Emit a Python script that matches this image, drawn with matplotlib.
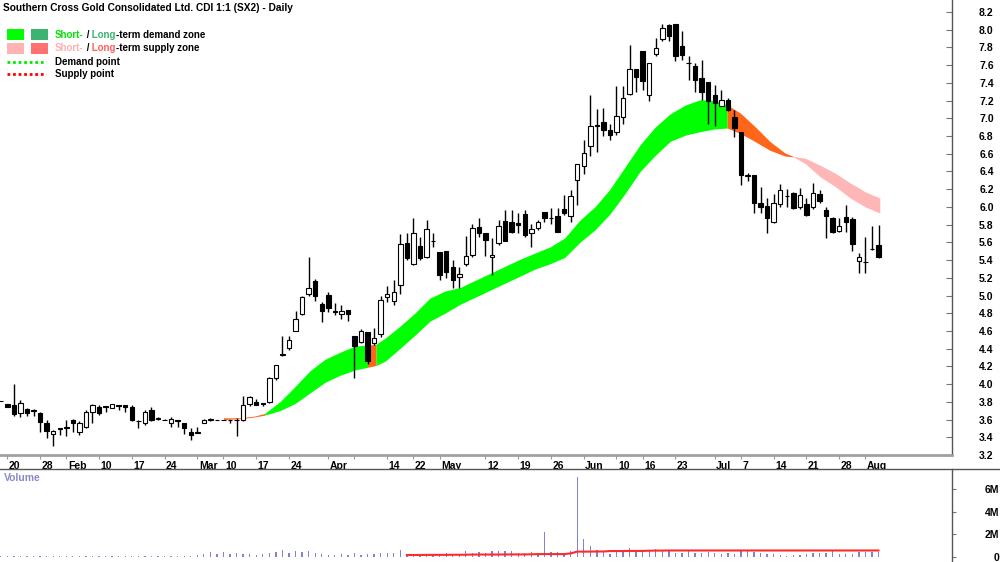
import numpy as np
import matplotlib
matplotlib.use("Agg")
import matplotlib.pyplot as plt
from matplotlib.lines import Line2D
import matplotlib.transforms as mtransforms

plt.rcParams['font.family'] = ['Liberation Sans', 'DejaVu Sans']

# ---------------- data ----------------
title = "Southern Cross Gold Consolidated Ltd. CDI 1:1 (SX2) - Daily"

opens = [3.81, 3.77, 3.76, 3.67, 3.72, 3.71, 3.67, 3.56, 3.44, 3.495, 3.51, 3.60, 3.46, 3.52, 3.69, 3.74,
         3.74, 3.73, 3.76, 3.76, 3.745, 3.58, 3.56, 3.71, 3.61, 3.60, 3.56, 3.60, 3.56, 3.46, 3.45, 3.565,
         3.60, 3.60, 3.60, 3.60, 3.60, 3.59, 3.77, 3.80, 3.79, 3.80, 4.07, 4.33, 4.41, 4.60, 4.79, 5.02,
         5.16, 4.90, 5.01, 4.82, 4.79, 4.84, 4.54, 4.48, 4.59, 4.46, 4.57, 4.98, 4.94, 5.12, 5.59, 5.36,
         5.56, 5.43, 5.62, 5.49, 5.50, 5.32, 5.21, 5.36, 5.46, 5.77, 5.71, 5.43, 5.59, 5.84, 5.83, 5.82,
         5.92, 5.71, 5.76, 5.94, 5.88, 5.90, 5.98, 5.90, 6.30, 6.46, 6.69, 6.92, 6.96, 6.87, 6.85, 7.02,
         7.28, 7.56, 7.76, 7.26, 7.73, 7.90, 8.05, 8.07, 7.82, 7.62, 7.59, 7.46, 7.41, 7.26, 7.14, 7.21,
         7.01, 6.85, 6.35, 6.36, 6.04, 6.01, 5.83, 6.03, 6.12, 6.16, 6.00, 6.03, 6.00, 6.15, 5.97, 5.87,
         5.73, 5.89, 5.86, 5.39, 5.38, 5.52, 5.57]
highs = [3.815, 3.77, 4.00, 3.82, 3.73, 3.715, 3.69, 3.60, 3.48, 3.50, 3.60, 3.61, 3.58, 3.71, 3.78, 3.76,
         3.75, 3.77, 3.76, 3.76, 3.76, 3.59, 3.71, 3.74, 3.63, 3.61, 3.63, 3.60, 3.565, 3.50, 3.52, 3.61,
         3.62, 3.60, 3.60, 3.60, 3.62, 3.87, 3.87, 3.83, 3.79, 4.08, 4.22, 4.54, 4.54, 4.82, 5.00, 5.43,
         5.19, 4.93, 5.04, 4.92, 4.89, 4.84, 4.54, 4.62, 4.59, 4.63, 5.00, 5.11, 5.18, 5.69, 5.70, 5.88,
         5.66, 5.85, 5.70, 5.49, 5.50, 5.40, 5.32, 5.67, 5.81, 5.88, 5.71, 5.65, 5.85, 5.97, 5.97, 5.93,
         5.97, 5.81, 5.85, 5.94, 5.99, 5.99, 6.13, 6.19, 6.48, 6.76, 7.26, 7.10, 7.12, 6.94, 7.36, 7.36,
         7.83, 7.56, 7.76, 7.62, 7.91, 8.07, 8.07, 8.07, 7.99, 7.70, 7.62, 7.66, 7.41, 7.38, 7.32, 7.23,
         7.09, 6.85, 6.38, 6.36, 6.23, 6.10, 6.15, 6.26, 6.20, 6.17, 6.21, 6.10, 6.27, 6.19, 6.00, 5.89,
         5.87, 6.02, 5.89, 5.48, 5.66, 5.78, 5.80]
lows = [3.805, 3.74, 3.64, 3.63, 3.64, 3.64, 3.46, 3.39, 3.30, 3.43, 3.42, 3.46, 3.43, 3.51, 3.56, 3.65,
        3.68, 3.73, 3.71, 3.68, 3.58, 3.51, 3.54, 3.58, 3.60, 3.59, 3.52, 3.52, 3.44, 3.37, 3.45, 3.56,
        3.58, 3.60, 3.60, 3.56, 3.41, 3.58, 3.75, 3.76, 3.75, 3.79, 4.05, 4.32, 4.38, 4.60, 4.78, 5.00,
        4.94, 4.70, 4.81, 4.78, 4.74, 4.71, 4.07, 4.46, 4.23, 4.44, 4.53, 4.93, 4.89, 5.02, 5.40, 5.34,
        5.40, 5.42, 5.55, 5.18, 5.20, 5.08, 5.08, 5.33, 5.44, 5.66, 5.45, 5.23, 5.57, 5.61, 5.70, 5.70,
        5.66, 5.55, 5.74, 5.83, 5.81, 5.72, 5.91, 5.83, 6.02, 6.37, 6.58, 6.62, 6.80, 6.76, 6.81, 6.94,
        7.26, 7.30, 7.32, 7.19, 7.70, 7.87, 7.87, 7.65, 7.66, 7.43, 7.30, 7.21, 6.94, 6.91, 7.14, 7.08,
        6.79, 6.25, 6.29, 5.93, 5.93, 5.70, 5.82, 6.00, 6.00, 5.98, 5.98, 5.90, 5.98, 6.04, 5.65, 5.70,
        5.72, 5.72, 5.50, 5.25, 5.25, 5.51, 5.42]
closes = [3.81, 3.745, 3.66, 3.79, 3.67, 3.70, 3.57, 3.47, 3.47, 3.50, 3.515, 3.56, 3.56, 3.69, 3.76, 3.67,
          3.75, 3.77, 3.755, 3.745, 3.60, 3.585, 3.69, 3.60, 3.615, 3.60, 3.61, 3.58, 3.51, 3.43, 3.455, 3.60,
          3.605, 3.60, 3.60, 3.595, 3.59, 3.76, 3.85, 3.76, 3.77, 4.07, 4.22, 4.335, 4.50, 4.73, 4.98, 5.09,
          4.99, 4.82, 4.86, 4.81, 4.83, 4.79, 4.43, 4.60, 4.26, 4.52, 4.95, 5.02, 5.04, 5.58, 5.42, 5.70,
          5.42, 5.75, 5.62, 5.23, 5.27, 5.18, 5.24, 5.45, 5.76, 5.71, 5.63, 5.46, 5.78, 5.62, 5.72, 5.80,
          5.68, 5.75, 5.83, 5.87, 5.88, 5.72, 5.93, 6.12, 6.48, 6.61, 6.91, 6.91, 6.87, 6.81, 7.03, 7.23,
          7.56, 7.47, 7.42, 7.62, 7.79, 8.02, 7.93, 7.70, 7.71, 7.62, 7.43, 7.30, 7.20, 7.17, 7.21, 7.09,
          6.89, 6.36, 6.36, 6.04, 6.00, 5.87, 6.04, 6.19, 6.12, 5.99, 6.14, 5.91, 6.16, 6.07, 5.90, 5.72,
          5.79, 5.83, 5.58, 5.43, 5.38, 5.52, 5.43]
volume_m = [0.08, 0.10, 0.08, 0.07, 0.09, 0.08, 0.10, 0.08, 0.12, 0.08, 0.10, 0.09, 0.08, 0.10, 0.09, 0.08,
            0.07, 0.09, 0.08, 0.10, 0.09, 0.08, 0.12, 0.10, 0.09, 0.08, 0.10, 0.12, 0.10, 0.09, 0.15,
            0.30, 0.42, 0.30, 0.45, 0.28, 0.32, 0.28, 0.25, 0.20, 0.25, 0.32, 0.42, 0.62, 0.32, 0.55, 0.48,
            0.52, 0.32, 0.25, 0.18, 0.18, 0.25, 0.18, 0.32, 0.18, 0.28, 0.25, 0.32, 0.38, 0.32, 0.62,
            0.30, 0.26, 0.24, 0.24, 0.26, 0.24, 0.32, 0.24, 0.26, 0.53, 0.32, 0.41, 0.32,
            0.56, 0.56, 0.56, 0.50, 0.35, 0.35, 0.41, 0.35, 2.20, 0.41, 0.41, 0.35, 0.50, 7.05, 1.60, 1.00,
            0.65, 0.41, 0.29, 0.50, 0.59, 0.79, 0.59, 0.56, 0.65, 0.70, 0.56, 0.56, 0.35, 0.35, 0.56, 0.35,
            0.35, 0.41, 0.35, 0.26, 0.35, 0.26, 0.56, 0.50, 0.41, 0.35, 0.29, 0.26, 0.20, 0.06, 0.15, 0.20,
            0.26, 0.35, 0.35, 0.35, 0.50, 0.26, 0.26, 0.29, 0.41, 0.41, 0.41, 0.41]
# volume average line, from candle 61 to the last candle
volume_avg_m = [0.18, 0.18, 0.18, 0.19, 0.19, 0.19, 0.19, 0.20, 0.20, 0.20,
                0.22, 0.22, 0.22, 0.22, 0.22, 0.23, 0.23, 0.23, 0.23, 0.24,
                0.26, 0.26, 0.26, 0.26, 0.26, 0.32,
                0.48, 0.48, 0.48, 0.49, 0.49,
                0.53, 0.53, 0.53, 0.54, 0.54, 0.54,
                0.56, 0.57, 0.57, 0.58, 0.58, 0.58, 0.58, 0.58, 0.58, 0.58, 0.58, 0.58,
                0.58, 0.58, 0.58, 0.58, 0.58, 0.58, 0.58, 0.58, 0.58, 0.58, 0.58, 0.58,
                0.58, 0.58, 0.58, 0.58, 0.58, 0.58, 0.58, 0.58, 0.58, 0.58, 0.58, 0.58]

# demand / supply zone band
band_pos = [33.0, 35.5, 37.8, 39.3, 41.6, 43.9, 46.2, 48.5, 50.8, 53.1, 55.0, 56.3, 57.7, 59.9, 62.2, 64.5,
            66.8, 69.1, 71.4, 73.7, 76.0, 78.3, 80.6, 82.9, 85.1, 87.4, 89.7, 92.0, 94.3, 96.6, 98.9, 101.2,
            103.5, 105.8, 108.0, 109.9, 111.9, 114.1, 116.4, 118.7, 120.0, 121.8, 124.1, 126.4, 128.7, 131.0, 133.2]
band_upper = [3.62, 3.62, 3.64, 3.67, 3.80, 3.97, 4.15, 4.28, 4.36, 4.43, 4.44, 4.45, 4.52, 4.65, 4.80, 4.97,
              5.05, 5.09, 5.17, 5.25, 5.33, 5.41, 5.48, 5.55, 5.65, 5.85, 6.00, 6.20, 6.45, 6.70, 6.90, 7.05,
              7.15, 7.21, 7.20, 7.15, 7.06, 6.91, 6.74, 6.61, 6.57, 6.55, 6.47, 6.38, 6.27, 6.17, 6.10]
band_lower = [3.60, 3.61, 3.63, 3.65, 3.70, 3.78, 3.90, 4.02, 4.10, 4.16, 4.19, 4.21, 4.26, 4.40, 4.55, 4.71,
              4.80, 4.90, 4.98, 5.06, 5.14, 5.22, 5.30, 5.36, 5.43, 5.60, 5.74, 5.92, 6.15, 6.40, 6.58, 6.74,
              6.81, 6.85, 6.88, 6.89, 6.83, 6.74, 6.64, 6.575, 6.565, 6.49, 6.34, 6.23, 6.10, 6.00, 5.93]
band_zone = ['X', 'X', 'X', 'D', 'D', 'D', 'D', 'D', 'D', 'D', 'X', 'D', 'D', 'D', 'D', 'D',
             'D', 'D', 'D', 'D', 'D', 'D', 'D', 'D', 'D', 'D', 'D', 'D', 'D', 'D', 'D', 'D',
             'D', 'D', 'D', 'X', 'X', 'X', 'X', 'X', 'P', 'P', 'P', 'P', 'P', 'P', 'P']

tick_pos = [0, 5, 9, 14, 19, 24, 29, 33, 38, 43, 49, 53, 58, 62, 66, 73, 78, 83, 88, 93, 97, 102,
            108, 112, 117, 122, 127, 131]
tick_labels = ['20', '28', 'Feb', '10', '17', '24', 'Mar', '10', '17', '24', 'Apr', '', '14', '22', 'May',
               '12', '19', '26', 'Jun', '10', '16', '23', 'Jul', '7', '14', '21', '28', 'Aug']
price_ticks = [3.2, 3.4, 3.6, 3.8, 4.0, 4.2, 4.4, 4.6, 4.8, 5.0, 5.2, 5.4, 5.6, 5.8, 6.0, 6.2, 6.4,
               6.6, 6.8, 7.0, 7.2, 7.4, 7.6, 7.8, 8.0, 8.2]
volume_ticks = [0, 2, 4, 6]
volume_tick_labels = ['0', '2M', '4M', '6M']

# ---------------- figure ----------------
W, H = 1000, 562
fig = plt.figure(figsize=(W / 100, H / 100), dpi=100)
fig.patch.set_facecolor('white')

ax = fig.add_axes([0, 1 - 455 / H, 952 / W, 455 / H])
axv = fig.add_axes([0, 0, 952 / W, 1 - 469 / H])

o = np.array(opens); h = np.array(highs); l = np.array(lows); c = np.array(closes)
x = np.arange(len(o)) - 1

# zone band
zone_colors = {'D': '#00ff00', 'X': '#ff661a', 'P': '#ffb6b6'}
bp = np.array(band_pos); bu = np.array(band_upper); bl = np.array(band_lower)
i = 0
n = len(bp)
while i < n - 1:
    z = band_zone[i]
    k = i
    while k < n - 1 and band_zone[k] == z:
        k += 1
    sl = slice(i, k + 1)
    ax.fill_between(bp[sl], bl[sl], bu[sl], color=zone_colors[z], lw=0, zorder=1)
    i = k

# candles
up = c >= o
ax.vlines(x, l, h, color='black', lw=1.0, zorder=2)
body_bottom = np.minimum(o, c)
body_h = np.abs(c - o)
ax.bar(x, body_h, bottom=body_bottom, width=0.68,
       color=np.where(up, 'white', 'black'), edgecolor='black', linewidth=0.8, zorder=3)

ax.set_xlim(-1.119, 144.22)
ax.set_ylim(3.2, 8.3354)
for s in ['top', 'left']:
    ax.spines[s].set_visible(False)
ax.spines['bottom'].set_color('#a0a0a0')
ax.spines['bottom'].set_linewidth(2)
ax.spines['right'].set_color('#555555')
ax.spines['right'].set_linewidth(1)

ax.yaxis.tick_right()
ax.set_yticks(price_ticks)
ax.set_yticklabels(['%.1f' % v for v in price_ticks])
ax.tick_params(axis='y', direction='in', length=4, width=0.8, color='#777777', pad=30,
               labelsize=7.5, labelcolor='black')
for lab in ax.get_yticklabels():
    lab.set_ha('right')
    lab.set_fontweight('bold')

ax.set_xticks(tick_pos)
ax.set_xticklabels(tick_labels)
ax.tick_params(axis='x', direction='out', length=3, width=0.8, color='#999999', pad=1,
               labelsize=7.5, labelcolor='black')
offset = mtransforms.ScaledTranslation(1.5 / 100, 0, fig.dpi_scale_trans)
for lab in ax.get_xticklabels():
    lab.set_ha('left')
    lab.set_fontweight('bold')
    lab.set_transform(lab.get_transform() + offset)

# volume
xv = np.arange(len(volume_m)) - 1
axv.bar(xv, volume_m, width=0.2, color='#8282d2', zorder=2)
axv.plot(xv[62:], volume_avg_m, color='#ff2a2a', lw=1.5, zorder=3)
axv.set_xlim(-1.119, 144.22)
axv.set_ylim(-0.44, 7.79)
for s in ['top', 'left', 'bottom']:
    axv.spines[s].set_visible(False)
axv.spines['right'].set_color('#555555')
axv.spines['right'].set_linewidth(1)
axv.set_xticks([])
axv.yaxis.tick_right()
axv.set_yticks(volume_ticks)
axv.set_yticklabels(volume_tick_labels)
axv.tick_params(axis='y', direction='out', length=3, width=0.8, color='#777777', pad=31,
                labelsize=7.5, labelcolor='black')
for lab in axv.get_yticklabels():
    lab.set_ha('right')
    lab.set_fontweight('bold')

fig.add_artist(Line2D([0, 1], [1 - 469 / H, 1 - 469 / H], transform=fig.transFigure,
                      color='#555555', lw=1))
fig.text(4 / W, 1 - 478 / H, 'Volume', color='#8a8ac8', fontsize=7.5, fontweight='bold',
         va='center', ha='left')

# title
fig.text(3 / W, 1 - 8 / H, title, fontsize=7.3, fontweight='bold', va='center', ha='left', color='black')

# legend
LEG_FS = 7.0


def rich_text(x_px, y_px, pieces):
    prev = None
    for s, col in pieces:
        if prev is None:
            prev = fig.text(x_px / W, 1 - y_px / H, s, color=col, fontsize=LEG_FS, fontweight='bold',
                            va='center', ha='left')
        else:
            prev = ax.annotate(s, xycoords=prev, xy=(1, 0), va='bottom', ha='left', color=col,
                               fontsize=LEG_FS, fontweight='bold', annotation_clip=False)


rects = [(7, 29, '#00ff00'), (31, 29, '#3cb371'), (7, 43, '#ffb3b3'), (31, 43, '#ff7070')]
for rx, ry, col in rects:
    fig.patches.append(matplotlib.patches.Rectangle((rx / W, 1 - (ry + 11) / H), 17 / W, 11 / H,
                                                    transform=fig.transFigure, color=col, lw=0))
rich_text(55, 35, [('Short-', '#00e600'), (' /', 'black'), (' Long', '#3cb371'),
                   ('-term demand zone', 'black')])
rich_text(55, 48, [('Short-', '#ffb0b0'), (' /', 'black'), (' Long', '#ff6060'),
                   ('-term supply zone', 'black')])
fig.add_artist(Line2D([7 / W, 46 / W], [1 - 62 / H, 1 - 62 / H], transform=fig.transFigure,
                      color='#00ee00', lw=2, linestyle=(0, (1, 1))))
fig.add_artist(Line2D([7 / W, 46 / W], [1 - 74 / H, 1 - 74 / H], transform=fig.transFigure,
                      color='#ff0000', lw=2, linestyle=(0, (1, 1))))
fig.text(55 / W, 1 - 62 / H, 'Demand point', fontsize=LEG_FS, fontweight='bold', va='center', ha='left')
fig.text(55 / W, 1 - 74 / H, 'Supply point', fontsize=LEG_FS, fontweight='bold', va='center', ha='left')

fig.savefig('out.png', dpi=100, facecolor='white')
